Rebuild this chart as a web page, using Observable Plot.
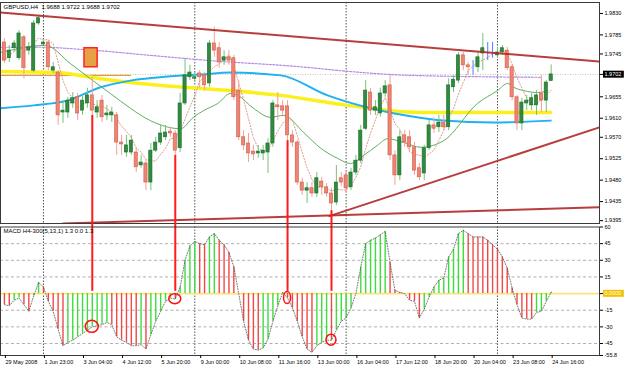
<!DOCTYPE html>
<html><head><meta charset="utf-8">
<script src="https://cdn.jsdelivr.net/npm/d3@7"></script>
<script src="https://cdn.jsdelivr.net/npm/@observablehq/plot@0.6"></script>
<style>
html,body{margin:0;padding:0;background:#fff;}
#chart{position:relative;width:625px;height:368px;overflow:hidden;background:#fff;}
#chart svg{position:absolute;left:0;display:block;overflow:visible;}
</style></head><body><div id="chart"></div>
<script>
// ---------- DATA (bar index 0 = 29 May 2008, H4 bars) ----------
const symbol = "GBPUSD", period = "H4";
const open  = [1.9769,1.9736,1.9757,1.9736,1.9780,1.9752,1.9710,1.9809,1.9765,1.9769,1.9710,1.9706,1.9622,1.9622,1.9641,1.9654,1.9626,1.9641,1.9658,1.9622,1.9647,1.9616,1.9616,1.9616,1.9559,1.9538,1.9538,1.9538,1.9511,1.9515,1.9475,1.9542,1.9559,1.9570,1.9582,1.9578,1.9547,1.9641,1.9696,1.9693,1.9704,1.9700,1.9683,1.9767,1.9757,1.9731,1.9738,1.9736,1.9668,1.9570,1.9557,1.9540,1.9536,1.9536,1.9538,1.9557,1.9637,1.9635,1.9635,1.9574,1.9559,1.9475,1.9458,1.9463,1.9452,1.9477,1.9465,1.9452,1.9433,1.9484,1.9490,1.9465,1.9496,1.9521,1.9588,1.9664,1.9626,1.9620,1.9662,1.9679,1.9532,1.9490,1.9574,1.9570,1.9549,1.9505,1.9494,1.9547,1.9595,1.9591,1.9601,1.9591,1.9675,1.9689,1.9742,1.9721,1.9725,1.9717,1.9746,1.9752,1.9752,1.9742,1.9748,1.9752,1.9717,1.9654,1.9599,1.9641,1.9637,1.9637,1.9662,1.9647,1.9688];
const high  = [1.9777,1.9763,1.9773,1.9794,1.9784,1.9769,1.9815,1.9826,1.9773,1.9773,1.9727,1.9710,1.9647,1.9654,1.9664,1.9662,1.9658,1.9673,1.9696,1.9647,1.9658,1.9637,1.9633,1.9622,1.9574,1.9574,1.9574,1.9547,1.9532,1.9521,1.9557,1.9570,1.9595,1.9595,1.9591,1.9584,1.9662,1.9736,1.9721,1.9706,1.9710,1.9706,1.9773,1.9801,1.9769,1.9752,1.9752,1.9742,1.9689,1.9584,1.9578,1.9553,1.9553,1.9553,1.9567,1.9647,1.9664,1.9647,1.9647,1.9584,1.9563,1.9484,1.9475,1.9475,1.9496,1.9486,1.9473,1.9463,1.9511,1.9496,1.9500,1.9505,1.9532,1.9595,1.9689,1.9673,1.9647,1.9673,1.9689,1.9700,1.9542,1.9584,1.9584,1.9584,1.9559,1.9515,1.9553,1.9605,1.9610,1.9616,1.9616,1.9693,1.9700,1.9748,1.9748,1.9727,1.9731,1.9748,1.9788,1.9769,1.9769,1.9759,1.9763,1.9759,1.9723,1.9658,1.9652,1.9658,1.9662,1.9668,1.9700,1.9689,1.9722];
const low   = [1.9725,1.9727,1.9748,1.9731,1.9693,1.9742,1.9706,1.9805,1.9763,1.9710,1.9704,1.9595,1.9599,1.9610,1.9631,1.9605,1.9616,1.9631,1.9616,1.9610,1.9601,1.9605,1.9601,1.9532,1.9532,1.9528,1.9532,1.9496,1.9505,1.9458,1.9458,1.9538,1.9553,1.9563,1.9570,1.9532,1.9538,1.9637,1.9689,1.9685,1.9673,1.9668,1.9675,1.9738,1.9715,1.9721,1.9721,1.9647,1.9563,1.9542,1.9517,1.9521,1.9526,1.9521,1.9494,1.9549,1.9605,1.9616,1.9563,1.9549,1.9469,1.9448,1.9431,1.9444,1.9444,1.9448,1.9444,1.9416,1.9427,1.9467,1.9454,1.9458,1.9490,1.9515,1.9584,1.9616,1.9616,1.9612,1.9654,1.9521,1.9469,1.9479,1.9549,1.9538,1.9490,1.9479,1.9479,1.9542,1.9578,1.9580,1.9584,1.9584,1.9664,1.9683,1.9710,1.9700,1.9700,1.9706,1.9710,1.9731,1.9736,1.9736,1.9742,1.9710,1.9647,1.9584,1.9584,1.9626,1.9626,1.9616,1.9622,1.9622,1.9688];
const close = [1.9731,1.9752,1.9767,1.9788,1.9715,1.9759,1.9809,1.9820,1.9769,1.9717,1.9717,1.9616,1.9626,1.9647,1.9652,1.9620,1.9647,1.9658,1.9626,1.9633,1.9612,1.9620,1.9622,1.9559,1.9555,1.9553,1.9563,1.9507,1.9517,1.9475,1.9542,1.9559,1.9578,1.9580,1.9578,1.9542,1.9641,1.9700,1.9706,1.9696,1.9696,1.9679,1.9767,1.9752,1.9727,1.9738,1.9731,1.9654,1.9570,1.9553,1.9536,1.9534,1.9540,1.9542,1.9557,1.9641,1.9633,1.9626,1.9574,1.9559,1.9475,1.9458,1.9463,1.9452,1.9484,1.9465,1.9452,1.9431,1.9475,1.9475,1.9463,1.9496,1.9521,1.9584,1.9668,1.9626,1.9633,1.9662,1.9677,1.9532,1.9490,1.9570,1.9559,1.9549,1.9500,1.9486,1.9547,1.9595,1.9588,1.9601,1.9591,1.9679,1.9691,1.9742,1.9721,1.9717,1.9725,1.9738,1.9757,1.9752,1.9752,1.9748,1.9757,1.9715,1.9654,1.9599,1.9643,1.9647,1.9652,1.9658,1.9647,1.9685,1.9702];
// MACD H4-300(5,13,1) histogram, one value per bar
const macd = [-10,-11,-6,-4,-10,-16,-2,10,
  6,-7,-16,-32,-47,-44,-42,-39,-36,-33,
  -30,-29,-28,-26,-28,-39,-42,-44,-47,-47,
  -46,-50,-37,-25,-16,-7,-4,-5,6,30,
  43,47,45,44,51,54,48,44,37,24,
  0,-25,-42,-50,-51,-49,-41,-25,-11,1,
  -4,-13,-25,-39,-50,-53,-47,-44,-42,-42,
  -33,-25,-22,-13,0,24,45,48,50,53,
  56,28,3,1,0,-6,-7,-22,-14,-3,
  6,12,14,33,40,54,57,54,51,51,
  51,48,44,40,33,23,5,-10,-22,-23,
  -23,-17,-16,-7,1.3];
// moving averages (bar position, price)
const yellowBars = [-0.8,10.5,19.7,25.8,39.6,46.3,56.6,70.3,85.3,111.9];
const yellowPrices = [1.9708,1.9706,1.9693,1.9685,1.9673,1.9668,1.9658,1.9637,1.9622,1.9622];
const blueBars = [-0.8,6,12.9,19.7,25.8,34,40.2,46.3,56.6,66.2,75,83.2,90,100.2,111.9];
const bluePrices = [1.9631,1.9637,1.9647,1.9675,1.9689,1.9698,1.9702,1.9706,1.9700,1.9658,1.9631,1.9614,1.9605,1.9601,1.9605];
const purpleBars = [-0.8,7.4,16.6,29.9,42.2,60.7,70.9,83.2,109.8];
const purplePrices = [1.9759,1.9759,1.9754,1.9742,1.9731,1.9718,1.9708,1.9700,1.9696];
const greenBars = [-0.8,3.3,8.4,13.5,17.6,21.7,25.8,29.9,36.1,38.7,40.8,43.7,46.3,47.8,51,54.5,57.2,61.3,64.8,68.2,70.9,73.6,76.4,78.5,81.8,85.3,90,96.9,101,103.1,104.3,106.4,109.2,111.3];
const greenPrices = [1.9748,1.9757,1.9763,1.9725,1.9693,1.9662,1.9631,1.9605,1.9588,1.9612,1.9626,1.9641,1.9662,1.9658,1.9631,1.9612,1.9616,1.9580,1.9547,1.9526,1.9515,1.9532,1.9553,1.9567,1.9559,1.9549,1.9563,1.9641,1.9668,1.9683,1.9675,1.9668,1.9664,1.9668];
// drawn objects
const trendStartBars = [-0.8, 66.4, 11.9];
const trendStartPrices = [1.9832, 1.9404, 1.9389];
const trendEndBars = [121.9, 121.9, 121.9];
const trendEndPrices = [1.9729, 1.9591, 1.9423];
const boxBars = [16.4, 19.1];
const boxPrices = [1.9717, 1.9757];
const hLineBars = [-0.8, 25.8];
const hLinePrice = 1.9700;
const markedBars = [18, 35, 58, 67];
// axes
const weekStartBars = [8, 39, 70, 101];
const timeTickBars = [0,8,16,24,32,40,48,56,64,72,80,88,96,104,112];
const timeLabels = ["29 May 2008","1 Jun 23:00","3 Jun 04:00","4 Jun 12:00","5 Jun 20:00","9 Jun 00:00","10 Jun 08:00","11 Jun 16:00","13 Jun 00:00","16 Jun 04:00","17 Jun 12:00","18 Jun 20:00","20 Jun 04:00","23 Jun 08:00","24 Jun 16:00"];
const priceTicks = [1.9830,1.9785,1.9745,1.9655,1.9610,1.9570,1.9525,1.9480,1.9435,1.9395];
const macdTicks = [60,45,30,15,0,-15,-30,-45,-55.8];
const macdLevels = [45,30,15,-15,-30,-45];

// ---------- BUILD ----------
const bars = open.map((o, i) => ({i, open: o, high: high[i], low: low[i], close: close[i]}));
const last = bars[bars.length - 1];
const macdData = macd.map((v, i) => ({i, v, up: i > 0 && v > macd[i - 1]}));
const pts = (bs, ps) => bs.map((b, j) => ({b, p: ps[j]}));
const trends = trendStartBars.map((b, j) => ({x1: b, y1: trendStartPrices[j], x2: trendEndBars[j], y2: trendEndPrices[j]}));
const isDoji = d => d.close === d.open, isBull = d => d.close > d.open;
const bodyFill = d => isDoji(d) ? "#3a5cff" : isBull(d) ? "#2f8c3e" : "#ee8471";
const bodyStroke = d => isDoji(d) ? "#3a5cff" : isBull(d) ? "#1d6a2a" : "#cf5c4b";
const wickColor = d => isDoji(d) ? "#5a78ff" : isBull(d) ? "#76c27a" : "#f2a198";
const xDomain = [-0.8, 121.9];
const font = "'Liberation Sans', Arial, sans-serif";
const fmt4 = d => d.toFixed(4);
const labelOf = new Map(timeTickBars.map((b, j) => [b, timeLabels[j]]));

const main = Plot.plot({
  width: 625, height: 225,
  marginLeft: 0, marginRight: 26, marginTop: 2, marginBottom: 2,
  x: {domain: xDomain, axis: null},
  y: {domain: [1.9389, 1.9853]},
  style: {fontFamily: font, fontSize: "5.5px", background: "transparent", color: "#000"},
  marks: [
    Plot.ruleX(weekStartBars, {stroke: "#555", strokeDasharray: "1.5,1.5", strokeWidth: 1}),
    Plot.ruleY([last.close], {stroke: "#c4c4c4", strokeDasharray: "1,1.5"}),
    Plot.line([{b: hLineBars[0], p: hLinePrice}, {b: hLineBars[1], p: hLinePrice}], {x: "b", y: "p", stroke: "#e49a3c", strokeWidth: 1.3, clip: true}),
    Plot.line(pts(purpleBars, purplePrices), {x: "b", y: "p", stroke: "#b48ae8", strokeWidth: 1.2, strokeDasharray: "2,1.5", curve: "monotone-x", clip: true}),
    Plot.line(pts(yellowBars, yellowPrices), {x: "b", y: "p", stroke: "#fbf01c", strokeWidth: 3.5, curve: "monotone-x", clip: true}),
    Plot.line(pts(blueBars, bluePrices), {x: "b", y: "p", stroke: "#1fb2f0", strokeWidth: 2, curve: "monotone-x", clip: true}),
    Plot.line(pts(greenBars, greenPrices), {x: "b", y: "p", stroke: "#5fae5f", strokeWidth: 1, curve: "monotone-x", clip: true}),
    Plot.lineY(bars, Plot.windowY({k: 5, anchor: "end"}, {x: "i", y: "close", stroke: "#dd9a8e", strokeWidth: 1, strokeDasharray: "1.2,1.8"})),
    Plot.ruleX(bars, {x: "i", y1: "low", y2: "high", stroke: wickColor, strokeWidth: 1}),
    Plot.rect(bars, {x1: d => d.i - 0.33, x2: d => d.i + 0.33, y1: "open", y2: "close", fill: bodyFill, stroke: bodyStroke, strokeWidth: 0.6}),
    Plot.link(trends, {x1: "x1", y1: "y1", x2: "x2", y2: "y2", stroke: "#b02828", strokeWidth: 2, strokeOpacity: 0.9, clip: true}),
    Plot.rect([0], {x1: () => boxBars[0], x2: () => boxBars[1], y1: () => boxPrices[0], y2: () => boxPrices[1], fill: "#e6a046", stroke: "#ff2424", strokeWidth: 1.5}),
    Plot.ruleX(markedBars, {x: d => d, y1: d => bars[d].low, y2: 1.9389, stroke: "#ff1c1c", strokeWidth: 2}),
    Plot.frame({stroke: "#3a3a3a", strokeWidth: 1}),
    Plot.axisY({anchor: "right", ticks: [...priceTicks, last.close], tickFormat: fmt4, tickSize: 3, tickPadding: 2, fontSize: 5.5, label: null}),
    Plot.text([`${symbol},${period}  ${fmt4(last.open)} ${fmt4(last.high)} ${fmt4(last.low)} ${fmt4(last.close)}`],
      {text: d => d, frameAnchor: "top-left", dx: 3, dy: 2, lineAnchor: "top", textAnchor: "start", fontSize: 6, fill: "#000"})
  ]
});

const lastMacd = macd[macd.length - 1];
const macdPlot = Plot.plot({
  width: 625, height: 143,
  marginLeft: 0, marginRight: 26, marginTop: 1.5, marginBottom: 13,
  x: {domain: xDomain},
  y: {domain: [-55.8, 60]},
  style: {fontFamily: font, fontSize: "5.5px", background: "transparent", color: "#000"},
  marks: [
    Plot.ruleY(macdLevels, {stroke: "#9c9c9c", strokeDasharray: "3,2.5", strokeWidth: 0.8}),
    Plot.ruleX(weekStartBars, {stroke: "#555", strokeDasharray: "1.5,1.5", strokeWidth: 1}),
    Plot.ruleY([0], {stroke: "#fde27c", strokeWidth: 1.6}),
    Plot.ruleX(macdData, {x: "i", y1: 0, y2: "v", stroke: d => d.up ? "#3fdc3f" : "#f04848", strokeWidth: 1.4}),
    Plot.line(macdData, {x: "i", y: "v", stroke: "#555", strokeWidth: 0.8, strokeDasharray: "1,1.6"}),
    Plot.ruleX(markedBars, {x: d => d, y1: 2, y2: 63, stroke: "#ff1c1c", strokeWidth: 2}),
    Plot.frame({stroke: "#3a3a3a", strokeWidth: 1}),
    Plot.axisY({anchor: "right", ticks: macdTicks, tickFormat: d => d === 0 ? "0.0000" : Number.isInteger(d) ? String(d) : d.toFixed(1), tickSize: 3, tickPadding: 2, fontSize: 5.5, label: null}),
    Plot.axisX({anchor: "bottom", ticks: timeTickBars, tickFormat: d => labelOf.get(d), textAnchor: "start", tickSize: 3, tickPadding: 2, dx: 1, fontSize: 5.5, label: null}),
    Plot.text([`MACD ${period}-300(5,13,1) ${lastMacd.toFixed(1)} 0.0 ${lastMacd.toFixed(1)}`],
      {text: d => d, frameAnchor: "top-left", dx: 3, dy: 2, lineAnchor: "top", textAnchor: "start", fontSize: 6, fill: "#000"})
  ]
});

const host = document.getElementById("chart");
main.style.top = "0px";
macdPlot.style.top = "225px";
host.appendChild(main);
host.appendChild(macdPlot);

// boxed value labels on the right axes
function boxLabel(svg, label, bg, fg) {
  const t = Array.from(svg.querySelectorAll("text")).find(e => e.textContent === label);
  if (!t) return;
  const bb = t.getBBox();
  const r = document.createElementNS("http://www.w3.org/2000/svg", "rect");
  r.setAttribute("x", bb.x - 1.5);
  r.setAttribute("y", bb.y - 0.5);
  r.setAttribute("width", bb.width + 4);
  r.setAttribute("height", bb.height + 1);
  r.setAttribute("fill", bg);
  if (t.getAttribute("transform")) r.setAttribute("transform", t.getAttribute("transform"));
  t.parentNode.insertBefore(r, t);
  t.setAttribute("fill", fg);
  t.style.fill = fg;
}
boxLabel(main, fmt4(last.close), "#000", "#fff");
boxLabel(macdPlot, "0.0000", "#f2c200", "#fff");

// red ellipses around the marked histogram bars
const sx = macdPlot.scale("x"), sy = macdPlot.scale("y");
const ellipseRx = [6.5, 6, 3.5, 5], ellipseRy = [6, 5, 6, 5.5];
const eg = d3.select(macdPlot).append("g");
markedBars.forEach((b, j) => {
  eg.append("ellipse")
    .attr("cx", sx.apply(b)).attr("cy", sy.apply(macd[b]))
    .attr("rx", ellipseRx[j]).attr("ry", ellipseRy[j])
    .attr("fill", "none").attr("stroke", "#ff1010").attr("stroke-width", 1.5);
});
</script></body></html>
